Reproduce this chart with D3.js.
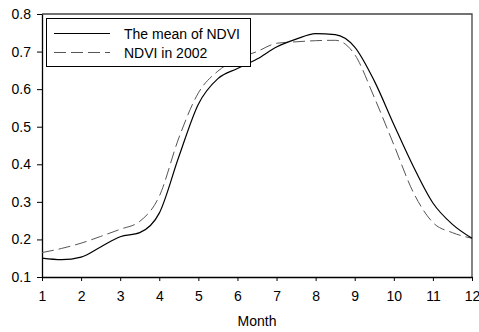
<!DOCTYPE html>
<html><head><meta charset="utf-8">
<script src="https://cdn.jsdelivr.net/npm/d3@7"></script>
<style>body{margin:0;background:#fff}svg{display:block}text{font-family:"Liberation Sans",Arial,sans-serif}</style>
</head><body><svg id="c" width="479" height="332"></svg>
<script>
const months = [1,1.5,2,2.5,3,3.5,4,4.5,5,5.5,6,6.5,7,7.5,8,8.5,9,9.5,10,10.5,11,11.5,12];
const meanNDVI = [0.150,0.146,0.153,0.180,0.207,0.218,0.270,0.420,0.560,0.628,0.655,0.680,0.712,0.733,0.748,0.745,0.712,0.622,0.506,0.394,0.297,0.240,0.203];
const ndvi2002 = [0.165,0.176,0.190,0.208,0.227,0.248,0.315,0.470,0.590,0.648,0.680,0.700,0.722,0.726,0.729,0.730,0.692,0.578,0.452,0.325,0.245,0.218,0.203];
const xTicks = [1,2,3,4,5,6,7,8,9,10,11,12];
const yTicks = [0.1,0.2,0.3,0.4,0.5,0.6,0.7,0.8];
const seriesNames = ["The mean of NDVI","NDVI in 2002"];

const svg = d3.select("#c");
const L=42, R=472, T=14, B=277;
const x = d3.scaleLinear().domain([1,12]).range([L,R]);
const y = d3.scaleLinear().domain([0.1,0.8]).range([B,T]);

// top/right frame
svg.append("path").attr("d",`M${L},${T}H${R}V${B}`).attr("fill","none").attr("stroke","#444").attr("stroke-width",1.3);

const xa = svg.append("g").attr("transform",`translate(0,${B})`)
  .call(d3.axisBottom(x).tickValues(xTicks).tickFormat(d3.format("d")).tickSizeInner(4).tickSizeOuter(0).tickPadding(10));
const ya = svg.append("g").attr("transform",`translate(${L},0)`)
  .call(d3.axisLeft(y).tickValues(yTicks).tickFormat(d3.format(".1f")).tickSizeInner(5).tickSizeOuter(0).tickPadding(6));
[xa,ya].forEach(g=>{
  g.selectAll("path").attr("stroke","#000").attr("stroke-width",1.3);
  g.selectAll("line").attr("stroke","#000");
  g.selectAll("text").attr("font-size",14).attr("fill","#000").style("font-family","'Liberation Sans',Arial,sans-serif");
});

svg.append("text").attr("x",(L+R)/2).attr("y",326).attr("text-anchor","middle")
  .attr("font-size",14).text("Month");

const line = d3.line().x((d,i)=>x(months[i])).y(d=>y(d)).curve(d3.curveMonotoneX);
svg.append("path").datum(ndvi2002).attr("d",line).attr("fill","none")
  .attr("stroke","#555").attr("stroke-width",1).attr("stroke-dasharray","12,5");
svg.append("path").datum(meanNDVI).attr("d",line).attr("fill","none")
  .attr("stroke","#000").attr("stroke-width",1.2);

// legend
const lg = svg.append("g");
lg.append("rect").attr("x",46.5).attr("y",18.5).attr("width",204).attr("height",48)
  .attr("fill","#fff").attr("stroke","#000").attr("stroke-width",1);
const ly=[33.5,52.5];
lg.append("line").attr("x1",54).attr("x2",110).attr("y1",ly[0]).attr("y2",ly[0]).attr("stroke","#000").attr("stroke-width",1.2);
lg.append("line").attr("x1",54).attr("x2",110).attr("y1",ly[1]).attr("y2",ly[1]).attr("stroke","#555").attr("stroke-dasharray","12,5");
seriesNames.forEach((n,i)=>lg.append("text").attr("x",124).attr("y",ly[i]+5).attr("font-size",14).text(n));
</script></body></html>
